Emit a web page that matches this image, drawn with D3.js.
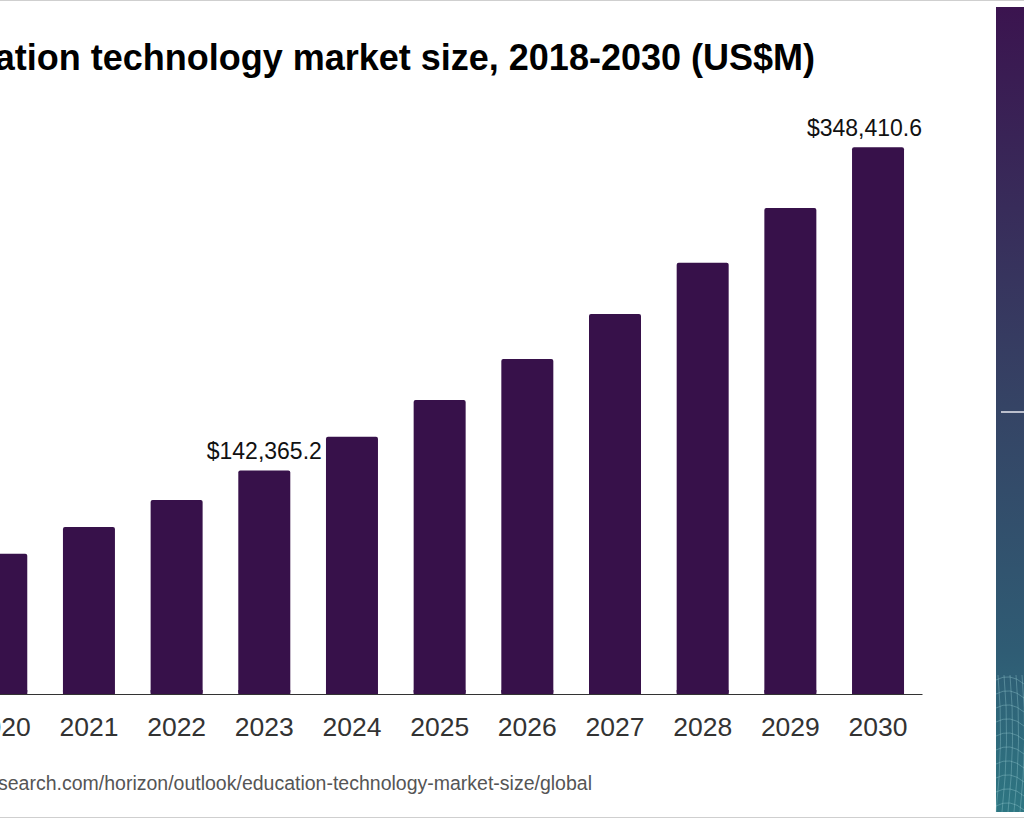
<!DOCTYPE html>
<html>
<head>
<meta charset="utf-8">
<script src="https://cdn.jsdelivr.net/npm/d3@7.9.0/dist/d3.min.js"></script>
<style>
  html, body { margin: 0; padding: 0; background: #fff; }
  svg { display: block; font-family: "Liberation Sans", Arial, Helvetica, sans-serif; }
</style>
</head>
<body>
<svg id="chart"></svg>
<script>
// ---- data (US$M) ----
const years = ["2020", "2021", "2022", "2023", "2024", "2025", "2026", "2027", "2028", "2029", "2030"];
const marketSize = [89414, 106430, 123640, 142365.2, 163980, 187370, 213500, 242180, 274870, 309730, 348410.6];
const labelledYears = ["2023", "2030"];

const titleText = "Global education technology market size, 2018-2030 (US$M)";
const sourceText = "Source: www.grandviewresearch.com/horizon/outlook/education-technology-market-size/global";

const width = 1024;
const height = 820;
const baseline = 694;
const plotTop = 147.3;
const plotRight = 922;

const svg = d3.select("#chart")
  .attr("width", width)
  .attr("height", height)
  .attr("viewBox", `0 0 ${width} ${height}`);

const data = years.map((y, i) => ({ year: y, value: marketSize[i] }));

// --- Scales ---
const x = d3.scaleBand()
  .domain(years)
  .range([-42.7, plotRight])
  .paddingInner(0.407)
  .paddingOuter(0.205);

const yScale = d3.scaleLinear()
  .domain([0, d3.max(marketSize)])
  .range([baseline, plotTop]);

// --- frame lines ---
svg.append("line")
  .attr("x1", 0).attr("x2", width).attr("y1", 0.5).attr("y2", 0.5)
  .attr("stroke", "#cfcfcf");
svg.append("line")
  .attr("x1", 0).attr("x2", width).attr("y1", 817.5).attr("y2", 817.5)
  .attr("stroke", "#cfcfcf");

// --- Title ---
svg.append("text")
  .attr("x", 815)
  .attr("y", 70)
  .attr("text-anchor", "end")
  .attr("font-size", "36px")
  .attr("font-weight", "bold")
  .attr("fill", "#000")
  .text(titleText);

// --- Bars ---
svg.append("g")
  .selectAll("rect")
  .data(data)
  .join("rect")
  .attr("x", (d) => x(d.year))
  .attr("y", (d) => yScale(d.value))
  .attr("width", x.bandwidth())
  .attr("height", (d) => baseline - yScale(d.value))
  .attr("rx", 2)
  .attr("fill", "#37114a");

// square off bottom corners
svg.append("g")
  .selectAll("rect")
  .data(data)
  .join("rect")
  .attr("x", (d) => x(d.year))
  .attr("y", baseline - 4)
  .attr("width", x.bandwidth())
  .attr("height", 4)
  .attr("fill", "#37114a");

// --- Value labels ---
const fmt = (v) => "$" + d3.format(",.1f")(v);
const labels = svg.append("g")
  .selectAll("text")
  .data(data.filter((d) => labelledYears.includes(d.year)))
  .join("text")
  .attr("x", (d) => x(d.year) + x.bandwidth() / 2)
  .attr("y", (d) => yScale(d.value) - 11.5)
  .attr("text-anchor", "middle")
  .attr("font-size", "23px")
  .attr("fill", "#111")
  .text((d) => fmt(d.value));

// keep labels inside the plot area
labels.each(function () {
  const w = this.getComputedTextLength();
  const cx = +this.getAttribute("x");
  if (cx + w / 2 > plotRight) this.setAttribute("x", plotRight - w / 2);
});

// --- X axis ---
const xAxis = svg.append("g")
  .attr("transform", `translate(0, ${baseline})`)
  .call(d3.axisBottom(x).tickSize(0).tickSizeOuter(0));

xAxis.select(".domain").attr("stroke", "#333").attr("stroke-width", 1);
xAxis.selectAll("text")
  .attr("y", 42)
  .attr("dy", 0)
  .attr("font-size", "26.5px")
  .attr("font-family", "'Liberation Sans', Arial, sans-serif")
  .attr("fill", "#333");

// --- Source ---
svg.append("text")
  .attr("x", 592)
  .attr("y", 790)
  .attr("text-anchor", "end")
  .attr("font-size", "19.5px")
  .attr("fill", "#555")
  .text(sourceText);

// --- Side panel ---
const defs = svg.append("defs");
const grad = defs.append("linearGradient")
  .attr("id", "panel")
  .attr("x1", 0).attr("y1", 0).attr("x2", 0).attr("y2", 1);
grad.append("stop").attr("offset", "0%").attr("stop-color", "#3b144f");
grad.append("stop").attr("offset", "50%").attr("stop-color", "#354465");
grad.append("stop").attr("offset", "80%").attr("stop-color", "#2f5c74");
grad.append("stop").attr("offset", "100%").attr("stop-color", "#2e7682");

svg.append("rect")
  .attr("x", 996)
  .attr("y", 7)
  .attr("width", 28)
  .attr("height", 805)
  .attr("fill", "url(#panel)");

svg.append("line")
  .attr("x1", 1001).attr("x2", 1024)
  .attr("y1", 412).attr("y2", 412)
  .attr("stroke", "#e8e8f0")
  .attr("stroke-width", 1.5);

// faint mesh at the bottom of the panel
const mesh = svg.append("g")
  .attr("stroke", "#9fd0d8")
  .attr("stroke-opacity", 0.35)
  .attr("fill", "none");
d3.range(0, 10).forEach((i) => {
  const y0 = 680 + i * 14;
  mesh.append("path")
    .attr("d", `M996,${y0} Q1010,${y0 - 8} 1024,${y0 + 4}`);
});
d3.range(0, 5).forEach((i) => {
  const x0 = 998 + i * 6;
  mesh.append("path")
    .attr("d", `M${x0},675 Q${x0 + 6},740 ${x0 - 2},812`);
});
</script>
</body>
</html>
